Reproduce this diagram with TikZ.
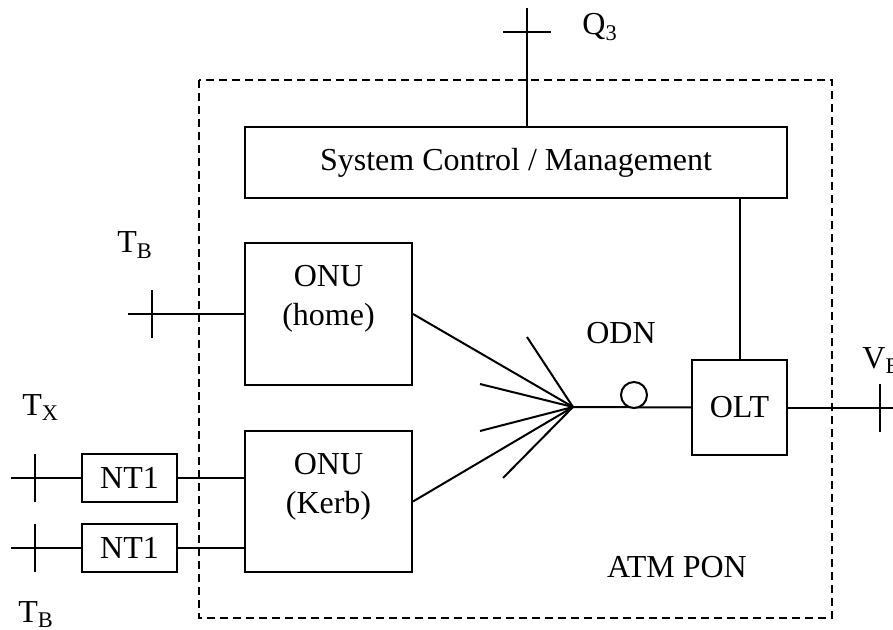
\documentclass[tikz,border=0pt]{standalone}
\usepackage{fontspec}
\setmainfont{Liberation Serif}
\tikzset{
  blocco/.style = {rectangle, draw, line width=1pt, fill=white, inner sep=0, font=\fontsize{16}{19.5}\selectfont},
  et/.style     = {inner sep=0, align=center, font=\fontsize{16}{19.5}\selectfont},
  odn/.style    = {circle, draw, line width=1pt, fill=white, minimum size=13pt, inner sep=0},
  link/.style   = {line width=1pt}, bordo/.style = {line width=1.2pt, dash pattern=on 4pt off 2.5pt}
}

\begin{document}
\begin{tikzpicture}[x=0.5pt, y=-0.5pt]
  \useasboundingbox (0,0) rectangle (893,630);

  % ATM PON
  \draw[bordo] (199,80) rectangle (832,618);
  \node[et] at (677,567) {ATM PON};

  % alto
  \node[blocco, minimum width=271pt, minimum height=35.5pt] (sys) at (516,162.5) {System Control / Management};
  \coordinate (q) at (527,8); \coordinate (qt) at (527,32);
  \draw[link] (q) -- (q |- sys.north); \draw[link] ([xshift=-12pt]qt) -- ([xshift=12pt]qt);
  \node[et, anchor=base west] at (582,35) {Q\textsubscript{3}};

  % ONU
  \node[blocco, minimum width=83.5pt, minimum height=71pt] (onuh) at (328.5,314) {};
  \node[et] at (328.5,299) {ONU\\(home)};
  \node[blocco, minimum width=83.5pt, minimum height=70.5pt] (onuk) at (328.5,501.5) {};
  \node[et] at (328.5,487) {ONU\\(Kerb)};

  % sinistra
  \coordinate (tb) at (128,314); \coordinate (tt) at (152,314);
  \draw[link] (tb) -- (onuh.west); \draw[link] ([yshift=12pt]tt) -- ([yshift=-12pt]tt);
  \node[et, anchor=base west] at (117,253) {T\textsubscript{B}};

  \node[blocco, minimum width=47.5pt, minimum height=24pt] (nta) at (129.5,478) {NT1};
  \node[blocco, minimum width=47.5pt, minimum height=24pt] (ntb) at (129.5,548) {NT1};
  \draw[link] (nta.east) -- (nta.east -| onuk.west); \draw[link] (ntb.east) -- (ntb.east -| onuk.west);
  \coordinate (ta) at (11,478); \draw[link] (ta) -- (nta.west); \draw[link] (35,454) -- (35,502);
  \coordinate (tc) at (11,548); \draw[link] (tc) -- (ntb.west); \draw[link] (35,524) -- (35,572);
  \node[et, anchor=base west] at (22,415) {T\textsubscript{X}};
  \node[et, anchor=base west] at (18,622) {T\textsubscript{B}};

  % ventaglio
  \coordinate (f) at (573,407);
  \coordinate (s1) at (527,337); \coordinate (s2) at (480,384);
  \coordinate (s3) at (480,431); \coordinate (s4) at (503,478);
  \draw[link] (onuh.east) -- (f); \draw[link] (onuk.east) -- (f);
  \foreach \s in {s1,s2,s3,s4} \draw[link] (\s) -- (f);

  % destra
  \node[blocco, minimum width=47.5pt, minimum height=47.5pt] (olt) at (739.5,407.5) {OLT};
  \draw[link] (f) -- (olt.west);
  \node[odn] (c) at (634,395) {}; \node[et] at (621,333) {ODN};
  \draw[link] (olt.north) -- (olt.north |- sys.south);
  \coordinate (vb) at (893,407.5); \draw[link] (olt.east) -- (vb);
  \draw[link] (880,383.5) -- (880,431.5);
  \node[et, anchor=base west] at (862,368) {V\textsubscript{B}};
\end{tikzpicture}
\end{document}
